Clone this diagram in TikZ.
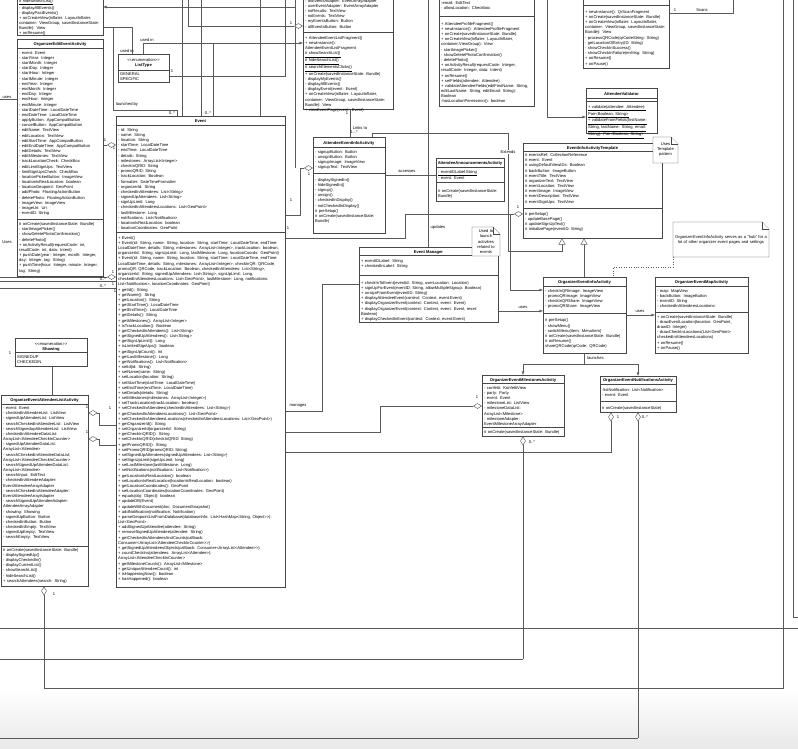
\documentclass[tikz,border=0pt]{standalone}
\usepackage{fontspec}
\setmainfont{Liberation Sans}
\usetikzlibrary{arrows.meta,calc}
\newcommand\tf{\fontsize{4.1}{5.17}\selectfont}
\newcommand\tfb{\fontsize{4.1}{5.17}\selectfont\bfseries}
\newcommand\dgt{>\kern0pt>}
\newcommand\dlt{<\kern0pt<}
\newcommand\hsep[2]{\draw[sepl] ($(#1.north west)+(0,#2)$) -- ($(#1.north east)+(0,#2)$);}
\newcommand\notebox[4]{\draw[notel] (#1,#2) -- (#3-7,#2) -- (#3,#2+7) -- (#3,#4) -- (#1,#4) -- cycle;
  \draw[notel] (#3-7,#2) -- (#3-7,#2+7) -- (#3,#2+7);}
\definecolor{ln}{HTML}{5A5A5A}
\definecolor{bx}{HTML}{474747}
\begin{document}
\begin{tikzpicture}[x=1pt,y=-1pt,
  box/.style={draw=bx,fill=white,line width=0.5pt,inner sep=0pt,anchor=north west},
  sepl/.style={draw=bx,line width=0.45pt},
  notel/.style={draw=bx,fill=white,line width=0.45pt},
  txt/.style={anchor=base west,inner sep=0pt,font=\tf,align=left,text width=300pt},
  ctxt/.style={anchor=base,inner sep=0pt,font=\tf,align=center},
  ttl/.style={inner sep=0pt,font=\tfb,anchor=base},
  lbl/.style={inner sep=0pt,font=\tf,anchor=base},
  con/.style={draw=ln,line width=0.45pt},
  arr/.style={con,-{Latex[length=3.5pt,width=3pt]}},
  agg/.style={con,{Diamond[open,length=9pt,width=5.5pt,fill=white]}-},
  gen/.style={con,-{Triangle[open,length=6pt,width=7pt,fill=white]}},
  dotl/.style={con,dotted}]
\useasboundingbox (0,0) rectangle (798,748);
\fill[white] (0,0) rectangle (798,748);
\shade[top color=white,bottom color=black!9] (0,690) rectangle (798,748);

% ---------- connectors (drawn below the classes) ----------
\draw[con] (182,-1) -- (182,116);
\draw[con] (201,-1) -- (201,116);
\draw[con] (213,43) -- (213,116);
\draw[con] (260,-1) -- (260,116);
\draw[con] (295,-1) -- (295,168);
\draw[arr] (295,7) -- (103,7);
\draw[con] (177,116) -- (177,110) -- (113,110) -- (113,27) -- (103,27);
\draw[con] (132,54) -- (132,27) -- (113,27);
\draw[con] (169,76) -- (285,76) -- (285,-1);
\draw[con] (0,99) -- (17,99);
\draw[agg] (116,145) -- (103,145);
\draw[agg] (116,277) -- (0,277);
\draw[con] (116,281) -- (0,281);
\draw[con] (116,288) -- (0,288);
\draw[con] (350,109) -- (350,137);
\draw[con] (428,-1) -- (428,247);
\draw[arr] (547,-1) -- (547,117) -- (586,117);
\draw[con] (669,13) -- (733,13) -- (733,-1);
\draw[con] (783,-1) -- (783,688) -- (44,688);
\draw[con] (793,-1) -- (793,617) -- (798,617);
\draw[con] (0,628) -- (798,628);
\draw[con] (0,738) -- (638,738);
\draw[con] (0,659) -- (523,659);
\draw[con] (52,366) -- (52,395);

% ---------- top-left fragment ----------
\node[box,minimum width=86pt,minimum height=56pt] (frag) at (17,-21) {};
\node[txt] (frag-m) at (19,2.3) {\underline{\# hideSearchList()}\\- displayAllEvents()\\- displayPastEvents()\\+ onCreateView(inflater: LayoutInflater,\\container: ViewGroup, savedInstanceState:\\Bundle): View\\+ onResume()};

% ---------- OrganizerEditEventActivity ----------
\node[box,minimum width=86pt,minimum height=237pt] (edit) at (17,39) {};
\node[ttl] (edit-t) at (60,45.5) {OrganizerEditEventActivity};
\hsep{edit}{9}
\hsep{edit}{180}
\node[txt] (edit-a) at (19,54.3) {- event: Event\\- startYear: Integer\\- startMonth: Integer\\- startDay: Integer\\- startHour: Integer\\- startMinute: Integer\\- endYear: Integer\\- endMonth: Integer\\- endDay: Integer\\- endHour: Integer\\- endMinute: Integer\\- startDateTime: LocalDateTime\\- endDateTime: LocalDateTime\\- applyButton: AppCompatButton\\- cancelButton: AppCompatButton\\- editName: TextView\\- editLocation: TextView\\- editStartTime: AppCompatButton\\- editEndDateTime: AppCompatButton\\- editDetails: TextView\\- editMilestones: TextView\\- trackLocationCheck: CheckBox\\- editLimitSignUps: TextView\\- limitSignUpsCheck: CheckBox\\- locationPickerButton: ImageView\\- locationIsRealLocation: boolean\\- locationGeopoint: GeoPoint\\- addPhoto: FloatingActionButton\\- deletePhoto: FloatingActionButton\\- imageView: ImageView\\- imageUri: Uri\\- eventID: String};
\node[txt] (edit-m) at (19,225.6) {\# onCreate(savedInstanceState: Bundle)\\- startImagePicker()\\- showDeletePhotoConfirmation()\\- deletePhoto()\\+ onActivityResult(requestCode: int,\\resultCode: int, data: Intent)\\+ pushDate(year: Integer, month: Integer,\\day: Integer, tag: String)\\+ pushTime(hour: Integer, minute: Integer,\\tag: String)};

% ---------- ListType ----------
\node[box,minimum width=51pt,minimum height=28pt] (ltype) at (118,54) {};
\node[lbl] (ltype-s) at (143.5,61.3) {\dlt enumeration\dgt};
\node[ttl] (ltype-t) at (143.5,66.5) {ListType};
\hsep{ltype}{16}
\node[txt] (ltype-a) at (120,75.3) {GENERAL\\SPECIFIC};

% ---------- Event ----------
\node[box,minimum width=169pt,minimum height=471pt] (evt) at (116,116) {};
\node[ttl] (evt-t) at (200.5,122.5) {Event};
\hsep{evt}{9.5}
\hsep{evt}{116}
\node[txt] (evt-a) at (118,131.3) {- id: String\\- name: String\\- location: String\\- startTime: LocalDateTime\\- endTime: LocalDateTime\\- details: String\\- milestones: ArrayList<Integer>\\- checkInQRID: String\\- promoQRID: String\\- trackLocation: Boolean\\- formatter: DateTimeFormatter\\- organizerId: String\\- checkedInAttendees: List<String>\\- signedUpAttendees: List<String>\\- signUpLimit: Long\\- checkedInAttendeesLocations: List<GeoPoint>\\- lastMilestone: Long\\- notifications: List<Notification>\\- locationIsRealLocation: boolean\\- locationCoordinates: GeoPoint};
\node[txt] (evt-m) at (118,239.3) {+ Event()\\+ Event(id: String, name: String, location: String, startTime: LocalDateTime, endTime:\\LocalDateTime, details: String, milestones: ArrayList<Integer>, trackLocation: boolean,\\organizerId: String, signUpLimit: Long, lastMilestone: Long, locationCoords: GeoPoint)\\+ Event(id: String, name: String, location: String, startTime: LocalDateTime, endTime:\\LocalDateTime, details: String, milestones: ArrayList<Integer>, checkInQR: QRCode,\\promoQR: QRCode, trackLocation: Boolean, checkedInAttendees: List<String>,\\organizerId: String, signedUpAttendees: List<String>, signUpLimit: Long,\\checkedInAttendeesLocations: List<GeoPoint>, lastMilestone: Long, notifications:\\List<Notification>, locationCoordinates: GeoPoint)\\+ getId(): String\\+ getName(): String\\+ getLocation(): String\\+ getStartTime(): LocalDateTime\\+ getEndTime(): LocalDateTime\\+ getDetails(): String\\+ getMilestones(): ArrayList<Integer>\\+ isTrackLocation(): Boolean\\+ getCheckedInAttendees(): List<String>\\+ getSignedUpAttendees(): List<String>\\+ getSignUpLimit(): Long\\+ isLimitedSignUps(): boolean\\+ getSignUpCount(): int\\+ getLastMilestone(): Long\\+ getNotifications(): List<Notification>\\+ setId(id: String)\\+ setName(name: String)\\+ setLocation(location: String)\\+ setStartTime(startTime: LocalDateTime)\\+ setEndTime(endTime: LocalDateTime)\\+ setDetails(details: String)\\+ setMilestones(milestones: ArrayList<Integer>)\\+ setTrackLocation(trackLocation: boolean)\\+ setCheckedInAttendees(checkedInAttendees: List<String>)\\+ getCheckedInAttendeesLocations(): List<GeoPoint>\\+ setCheckedInAttendeesLocations(checkedInAttendeesLocations: List<GeoPoint>)\\+ getOrganizerId(): String\\+ setOrganizerId(organizerId: String)\\+ getCheckInQRID(): String\\+ setCheckInQRID(checkInQRID: String)\\+ getPromoQRID(): String\\+ setPromoQRID(promoQRID: String)\\+ setSignedUpAttendees(signedUpAttendees: List<String>)\\+ setSignUpLimit(signUpLimit: long)\\+ setLastMilestone(lastMilestone: Long)\\+ setNotifications(notifications: List<Notification>)\\+ getLocationIsRealLocation(): boolean\\+ setLocationIsRealLocation(locationIsRealLocation: boolean)\\+ getLocationCoordinates(): GeoPoint\\+ setLocationCoordinates(locationCoordinates: GeoPoint)\\+ equals(obj: Object): boolean\\+ updateDB(Event)\\+ updateWithDocument(doc: DocumentSnapshot)\\+ addNotification(notification: Notification)\\+ parseGeopointListFromDatabase(databaseInfo: List<HashMap<String, Object\dgt):\\List<GeoPoint>\\+ addSignedUpAttendee(attendee: String)\\+ removeSignedUpAttendee(attendee: String)\\+ getCheckedInAttendeesAndCounts(callback:\\Consumer<ArrayList<AttendeeCheckInCounter\dgt)\\+ getSignedUpAttendeesObjects(callback: Consumer<ArrayList<Attendee\dgt)\\+ countCheckIns(attendees: ArrayList<Attendee>):\\ArrayList<AttendeeCheckInCounter>\\+ getMilestoneCounts(): ArrayList<Milestone>\\+ getUniqueAttendeeCount(): int\\+ isHappeningNow(): boolean\\+ hasHappened(): boolean};

% ---------- Showing ----------
\node[box,minimum width=72pt,minimum height=28pt] (show) at (15,338) {};
\node[lbl] (show-s) at (51,345.3) {\dlt enumeration\dgt};
\node[ttl] (show-t) at (51,350.5) {Showing};
\hsep{show}{14}
\node[txt] (show-a) at (17,358.3) {SIGNEDUP\\CHECKEDIN};
\node[lbl] (m-show) at (10,354) {1};

% ---------- OrganizeEventAttendeeListActivity ----------
\node[box,minimum width=87pt,minimum height=191pt] (alist) at (1,395) {};
\node[ttl] (alist-t) at (44.5,401.5) {OrganizeEventAttendeeListActivity};
\hsep{alist}{9}
\hsep{alist}{151}
\node[txt] (alist-a) at (3,409.6) {- event: Event\\- checkedInAttendeeList: ListView\\- signedUpAttendeeList: ListView\\- searchCheckedInAttendeeList: ListView\\- searchSignedupAttendeeList: ListView\\- checkedInAttendeeDataList:\\ArrayList<AttendeeCheckInCounter>\\- signedUpAttendeeDataList:\\ArrayList<Attendee>\\- searchCheckedInAttendeeDataList:\\ArrayList<AttendeeCheckInCounter>\\- searchSignedUpAttendeeDataList:\\ArrayList<Attendee>\\- searchInput: EditText\\- checkedInAttendeeAdapter:\\EventAttendeeArrayAdapter\\- searchCheckedInAttendeeAdapter:\\EventAttendeeArrayAdapter\\- searchSignedUpAttendeeAdapter:\\AttendeeArrayAdapter\\- showing: Showing\\- signedUpButton: Button\\- checkedInButton: Button\\- checkedInEmpty: TextView\\- signedUpEmpty: TextView\\- searchEmpty: TextView};
\node[txt] (alist-m) at (3,551.3) {\# onCreate(savedInstanceState: Bundle)\\- displaySignedUp()\\- displayCheckedIn()\\- displayCurrentList()\\- showSearchList()\\- hideSearchList()\\+ searchAttendees(search: String)};

% ---------- AttendeeEventListFragment ----------
\node[box,minimum width=90pt,minimum height=130pt] (aelf) at (303,-21) {};
\hsep{aelf}{53}
\node[txt] (aelf-a) at (305,2.3) {- allEventsAdapter: EventArrayAdapter\\- userEventAdapter: EventArrayAdapter\\- noResults: TextView\\- noEvents: TextView\\- myEventsButton: Button\\- allEventsButton: Button};
\node[txt] (aelf-m) at (305,39.3) {+ AttendeeEventListFragment()\\+ newInstance():\\AttendeeEventListFragment\\\underline{\# showSearchList()}\\\underline{\# hideSearchList()}\\\underline{\# searchElementsClicks()}\\+ onCreate(savedInstanceState: Bundle)\\- displayMyEvents()\\- displayAllEvents()\\- displayEvent(event: Event)\\+ onCreateView(inflater: LayoutInflater,\\container: ViewGroup, savedInstanceState:\\Bundle): View\\+ viewEventPage(event: Event)};

% ---------- AttendeeEventInfoActivity ----------
\node[box,minimum width=72pt,minimum height=96pt] (aeia) at (313,137) {};
\node[ttl] (aeia-t) at (349,144.5) {AttendeeEventInfoActivity};
\hsep{aeia}{10.5}
\hsep{aeia}{36}
\node[txt] (aeia-a) at (315,153.3) {- signupButton: Button\\- unsignButton: Button\\- signupImage: ImageView\\- signupText: TextView};
\node[txt] (aeia-m) at (315,181.3) {- displaySignedIn()\\- hideSignedIn()\\- signup()\\- unsign()\\- checkedInDisplay()\\- notCheckedInDisplay()\\\# preSetup()\\\# onCreate(savedInstanceState:\\Bundle)};

% ---------- AttendeeAnnouncementsActivity ----------
\node[box,minimum width=68pt,minimum height=43pt] (aaa) at (436,158) {};
\node[ttl] (aaa-t) at (470,164.5) {AttendeeAnnouncementsActivity};
\hsep{aaa}{9.5}
\hsep{aaa}{24}
\node[txt] (aaa-a) at (438,173.3) {\underline{- eventIDLabel:String}\\- event: Event};
\node[txt] (aaa-m) at (438,192.3) {\# onCreate(savedInstanceState:\\Bundle)};

% ---------- AttendeeProfileFragment ----------
\node[box,minimum width=95pt,minimum height=127pt] (apf) at (439,-21) {};
\hsep{apf}{37}
\node[txt] (apf-a) at (441,4) {-email: EditText\\- allowLocation: Checkbox};
\node[txt] (apf-m) at (441,25.3) {+ AttendeeProfileFragment()\\+ newInstance(): AttendeeProfileFragment\\+ onCreate(savedInstanceState: Bundle)\\+ onCreateView(inflater: LayoutInflater,\\container:ViewGroup): View\\- startImagePicker()\\- showDeletePhotoConfirmation()\\- deletePhoto()\\+ onActivityResult(requestCode: Integer,\\resultCode: Integer, data: Intent)\\+ onResume()\\+ setFields(attendee: Attendee)\\+ validateAttendeeFields(editFirstName: String,\\editLastName: String, editEmail: String):\\Boolean\\-hasLocationPermission(): boolean};

% ---------- QrScanFragment ----------
\node[box,minimum width=86pt,minimum height=89pt] (qr) at (583,-21) {};
\hsep{qr}{26}
\node[txt] (qr-m) at (585,13.3) {+ newInstance(): QrScanFragment\\+ onCreate(savedInstanceState: Bundle)\\+ onCreateView(inflater: LayoutInflater,\\container: ViewGroup, savedInstanceState:\\Bundle): View\\- processQRCode(qrCodeString: String)\\- getLocationOfEntry(ID: String)\\- showCheckInSuccess()\\- showCheckInFailure(errMsg: String)\\+ onResume()\\+ onPause()};
\node[lbl] (m-qr) at (675,11.5) {1};
\node[lbl] (l-scans) at (702,11.5) {Scans};

% ---------- AttendeeValidator ----------
\node[box,minimum width=71pt,minimum height=45pt] (aval) at (586,88) {};
\node[ttl] (aval-t) at (621.5,95.5) {AttendeeValidator};
\hsep{aval}{10}
\hsep{aval}{13.5}
\node[txt] (aval-m) at (588,108.3) {\underline{+ validate(attendee: Attendee):}\\\underline{Pair<Boolean, String>}\\\underline{+ validateFromFields(firstName:}\\\underline{String, lastName: String, email:}\\\underline{String): Pair<Boolean, String>}};

% ---------- EventInfoActivityTemplate ----------
\node[box,minimum width=139pt,minimum height=95pt] (tmpl) at (523,143) {};
\node[ttl] (tmpl-t) at (592.5,149) {EventInfoActivityTemplate};
\hsep{tmpl}{8}
\hsep{tmpl}{65}
\node[txt] (tmpl-a) at (525,156.6) {\# eventsRef: CollectionReference\\\# event: Event\\\# usingDefaultViewIDs: Boolean\\\# backButton: ImageButton\\\# eventTitle: TextView\\\# organizerText: TextView\\\# eventLocation: TextView\\\# eventImage: ImageView\\\# eventDescription: TextView\\\# eventSignUps: TextView};
\node[txt] (tmpl-m) at (525,215.3) {\# preSetup()\\- updateBasePage()\\\# updateSignUpText()\\\# initializePage(eventID: String)};
\notebox{653}{137}{678}{163}
\node[ctxt,text width=25pt] (note-tp) at (665.5,145.5) {Uses\\Template\\pattern};

% ---------- OrganizerEventInfoActivity ----------
\node[box,minimum width=83pt,minimum height=76pt] (oeia) at (543,277) {};
\node[ttl] (oeia-t) at (584.5,283.5) {OrganizerEventInfoActivity};
\hsep{oeia}{9.5}
\hsep{oeia}{36}
\node[txt] (oeia-a) at (545,292.3) {- checkInQRImage: ImageView\\- promoQRImage: ImageView\\- checkInQRShare: ImageView\\- promoQRShare: ImageView};
\node[txt] (oeia-m) at (545,321.9) {\# preSetup()\\- showMenu()\\- switchMenu(item: MenuItem)\\\# onCreate(savedInstanceState: Bundle)\\\# onResume()\\shareQRCode(qrCode: QRCode)};

% ---------- OrganizerEventMapActivity ----------
\node[box,minimum width=93pt,minimum height=76pt] (oema) at (655,277) {};
\node[ttl] (oema-t) at (701.5,283.5) {OrganizerEventMapActivity};
\hsep{oema}{9.5}
\hsep{oema}{35}
\node[txt] (oema-a) at (657,292.3) {- map: MapView\\- backButton: ImageButton\\- eventID: String\\- checkedInAttendeesLocations:};
\node[txt] (oema-m) at (657,318.3) {+ onCreate(savedInstanceState: Bundle)\\- drawEventLocation(location: GeoPoint,\\drawID: Integer)\\- drawCheckInLocations(List<GeoPoint>\\checkedInAttendeesLocations)\\+ onResume()\\+ onPause()};

% ---------- hub note ----------
\notebox{673}{222}{769}{257}
\node[ctxt,text width=96pt] (note-hub) at (721,238.3) {OrganizerEventInfoActivity serves as a "hub" for a\\lot of other organizer event pages and settings};

% ---------- Event Manager ----------
\node[box,minimum width=139pt,minimum height=75pt] (em) at (359,247) {};
\node[ttl] (em-t) at (428.5,253) {Event Manager};
\hsep{em}{8.5}
\hsep{em}{28}
\node[txt] (em-a) at (361,262.3) {+ eventIDLabel: String\\+ checkedInLabel: String};
\node[txt] (em-m) at (361,284.3) {+ checkInToEvent(eventId: String, userLocation: Location)\\+ signUpForEvent(eventID: String, allowMultipleSignup: Boolean)\\+ unsignFromEvent(eventID: String)\\+ displayAttendeeEvent(context: Context, event:Event)\\+ displayOrganizerEvent(context: Context, event: Event)\\+ displayOrganizerEvent(context: Context, event: Event, reset:\\Boolean)\\+ displayCheckedInEvent(context: Context, event:Event)};
\notebox{472}{227}{500}{256}
\node[ctxt,text width=28pt] (note-em) at (486,232.8) {Used to\\launch\\activities\\related to\\events};

% ---------- OrganizerEventMilestonesActivity ----------
\node[box,minimum width=82pt,minimum height=61pt] (omil) at (482,375) {};
\node[ttl] (omil-t) at (523,381) {OrganizerEventMilestonesActivity};
\hsep{omil}{8.5}
\hsep{omil}{52.5}
\node[txt] (omil-a) at (484,389.3) {- confetti: KonfettiView\\- party: Party\\- event: Event\\- milestoneList: ListView\\- milestoneDataList:\\ArrayList<Milestone>\\- milestoneAdapter:\\EventMilestoneArrayAdapter};
\node[txt] (omil-m) at (484,433) {\# onCreate(savedInstanceState: Bundle)};

% ---------- OrganizerEventNotificationsActivity ----------
\node[box,minimum width=76pt,minimum height=36pt] (onot) at (600,376) {};
\node[ttl] (onot-t) at (638,381.5) {OrganizerEventNotificationsActivity};
\hsep{onot}{8}
\hsep{onot}{25.5}
\node[txt] (onot-a) at (602,391) {-listNotification: List<Notification>\\- event: Event};
\node[txt] (onot-m) at (602,409.3) {\# onCreate(savedInstanceState)};

% ---------- relations between classes ----------
\draw[agg] (aelf.west |- 0,26) -- (188,26) -- (188,-1);
\draw[agg] (tmpl.west |- 0,214) -- (405,214) -- (405,238) -- (evt.east |- 0,238);
\draw[gen] (aeia.north -| 372,0) -- (372,133) -- (508,133) -- (508,251) -- (562,251) -- (tmpl.south -| 562,0);
\draw[gen] (oeia.north -| 584,0) -- (tmpl.south -| 584,0);
\draw[con] (aeia.east |- 0,175) -- (aaa.west |- 0,175);
\draw[con] (em.west |- 0,284) -- (322,284) -- (322,411) -- (evt.east |- 0,411);
\draw[arr] (em.east |- 0,311) -- (oeia.west |- 0,311);
\draw[arr] (510,214) -- (510,290) -- (oeia.west |- 0,290);
\draw[arr] (oeia.east |- 0,315) -- (oema.west |- 0,315);
\draw[dotl] (673,257) -- (673,267) -- (613,267) -- (oeia.north -| 613,0);
\draw[con] (oeia.south -| 584,0) -- (584,364);
\draw[arr] (584,364) -- (523,364) -- (omil.north -| 523,0);
\draw[arr] (584,364) -- (638,364) -- (onot.north -| 638,0);
\draw[agg] (omil.west |- 0,406) -- (380,406) -- (380,432) -- (evt.east |- 0,432);
\draw[agg] (onot.south -| 611,0) -- (611,452) -- (evt.east |- 0,452);
\draw[agg] (onot.south -| 638,0) -- (638,738);
\draw[agg] (omil.south -| 523,0) -- (523,659);
\draw[agg] (alist.south -| 44,0) -- (44,688);
\draw[arr] (143,54) -- (143,43) -- (aelf.west |- 0,43);
\draw[agg] (aeia.west |- 0,168) -- (300,168) -- (300,215) -- (evt.east |- 0,215);
\draw[agg] (alist.east |- 0,413) -- (99,413) -- (99,425) -- (evt.west |- 0,425);
\draw[agg] (alist.east |- 0,439) -- (99,439) -- (99,445) -- (evt.west |- 0,445);

% ---------- connector labels ----------
\node[lbl] (l-used1) at (147,41.5) {used in};
\node[lbl] (l-used2) at (127,52.5) {used in};
\node[lbl] (l-launched) at (127,105.5) {launched by};
\node[lbl] (m-lt) at (172,72.5) {1};
\node[lbl] (m-e1) at (172,114.5) {0..*};
\node[lbl] (m-e2) at (208,114.5) {0..*};
\node[lbl] (l-uses0) at (7,98) {uses};
\node[lbl] (l-uses1) at (7,243.5) {Uses};
\node[lbl] (m-ed1) at (105,141.5) {1};
\node[lbl] (m-ed2) at (114,149.5) {1};
\node[lbl] (m-l1) at (113,273) {1};
\node[lbl] (m-l2) at (103,280) {0..*};
\node[lbl] (m-l3) at (113,285.5) {1};
\node[lbl] (m-l4) at (103,287) {0..*};
\node[lbl] (m-l5) at (115,292) {1};
\node[lbl] (m-f1) at (291,24.5) {1};
\node[lbl] (m-lk1) at (347,114.5) {1};
\node[lbl] (m-lk2) at (354,133.5) {1...*};
\node[lbl] (l-links) at (360,129.5) {Links to};
\node[lbl,fill=white,inner sep=0.5pt] (l-ext) at (508,153.5) {Extends};
\node[lbl] (l-acc) at (407,172.5) {accesses};
\node[lbl] (l-upd) at (438,228.5) {updates};
\node[lbl] (m-ai1) at (309,175.5) {1};
\node[lbl] (m-ai2) at (291,201.5) {1};
\node[lbl] (m-t1) at (518,208.5) {1};
\node[lbl] (m-t2) at (288,229.5) {1};
\node[lbl] (l-manages) at (298,406.5) {manages};
\node[lbl] (l-uses2) at (523,308.5) {uses};
\node[lbl] (l-uses3) at (640,312.5) {uses};
\node[lbl,anchor=base west] (l-launches) at (587,359) {launches};
\node[lbl] (m-m1) at (477,398.5) {1};
\node[lbl] (m-m2) at (532,443.5) {0..*};
\node[lbl] (m-n1) at (618,418.5) {1};
\node[lbl] (m-n2) at (645,418.5) {0..*};
\node[lbl] (m-a1) at (87,408.5) {1};
\node[lbl] (m-a2) at (110,409.5) {1};
\node[lbl] (m-a3) at (87,433.5) {1};
\node[lbl] (m-a4) at (54,595.5) {1};
\end{tikzpicture}
\end{document}
